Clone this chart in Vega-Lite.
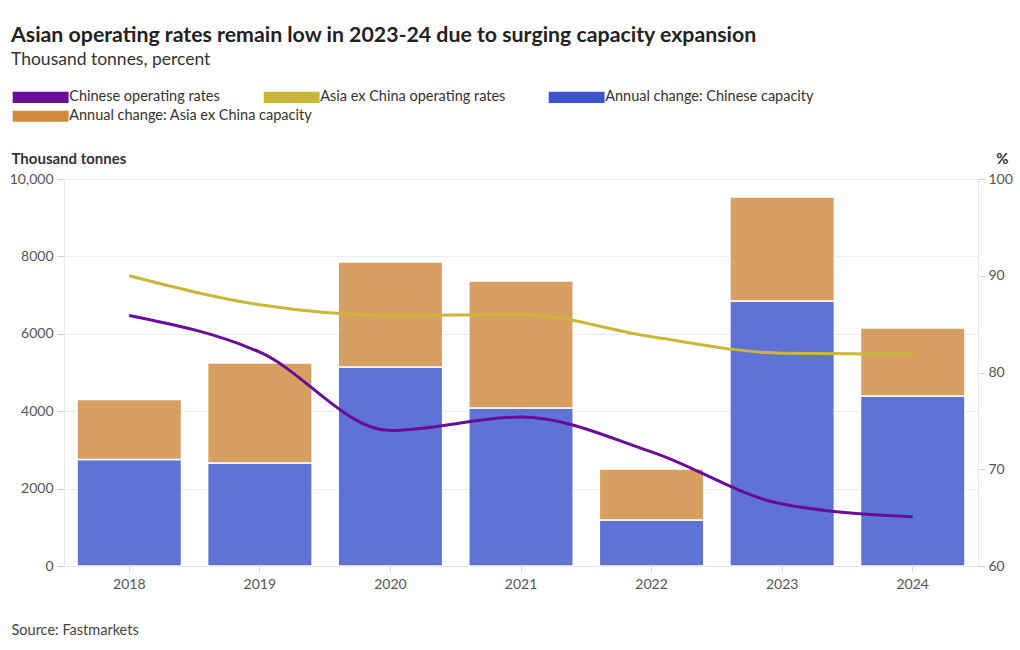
{
  "$schema": "https://vega.github.io/schema/vega-lite/v6.json",
  "autosize": "none",
  "width": 914,
  "height": 387,
  "padding": {"left": 64, "top": 179, "right": 42, "bottom": 84},
  "background": "white",
  "config": {
    "font": "Lato",
    "view": {"stroke": null},
    "title": {"anchor": "start", "frame": "group", "dx": -53, "fontSize": 21.3, "fontWeight": "bold", "color": "#222222", "subtitleFontSize": 17.5, "subtitleColor": "#333333", "subtitlePadding": 4, "offset": 22},
    "axis": {"labelFont": "Lato", "labelFontSize": 14, "labelColor": "#555555", "titleFont": "Lato"}
  },
  "title": {"text": "Asian operating rates remain low in 2023-24 due to surging capacity expansion", "subtitle": "Thousand tonnes, percent"},
  "data": {"values": [
    {"year": "2018", "series": "Annual change: Chinese capacity", "value": 2750},
    {"year": "2019", "series": "Annual change: Chinese capacity", "value": 2660},
    {"year": "2020", "series": "Annual change: Chinese capacity", "value": 5140},
    {"year": "2021", "series": "Annual change: Chinese capacity", "value": 4085},
    {"year": "2022", "series": "Annual change: Chinese capacity", "value": 1190},
    {"year": "2023", "series": "Annual change: Chinese capacity", "value": 6850},
    {"year": "2024", "series": "Annual change: Chinese capacity", "value": 4395},
    {"year": "2018", "series": "Annual change: Asia ex China capacity", "value": 1550},
    {"year": "2019", "series": "Annual change: Asia ex China capacity", "value": 2585},
    {"year": "2020", "series": "Annual change: Asia ex China capacity", "value": 2715},
    {"year": "2021", "series": "Annual change: Asia ex China capacity", "value": 3280},
    {"year": "2022", "series": "Annual change: Asia ex China capacity", "value": 1315},
    {"year": "2023", "series": "Annual change: Asia ex China capacity", "value": 2685},
    {"year": "2024", "series": "Annual change: Asia ex China capacity", "value": 1755},
    {"year": "2018", "series": "Chinese operating rates", "value": 85.9},
    {"year": "2019", "series": "Chinese operating rates", "value": 82.1},
    {"year": "2020", "series": "Chinese operating rates", "value": 74.0},
    {"year": "2021", "series": "Chinese operating rates", "value": 75.4},
    {"year": "2022", "series": "Chinese operating rates", "value": 71.8},
    {"year": "2023", "series": "Chinese operating rates", "value": 66.4},
    {"year": "2024", "series": "Chinese operating rates", "value": 65.1},
    {"year": "2018", "series": "Asia ex China operating rates", "value": 90.0},
    {"year": "2019", "series": "Asia ex China operating rates", "value": 87.0},
    {"year": "2020", "series": "Asia ex China operating rates", "value": 85.9},
    {"year": "2021", "series": "Asia ex China operating rates", "value": 86.0},
    {"year": "2022", "series": "Asia ex China operating rates", "value": 83.7},
    {"year": "2023", "series": "Asia ex China operating rates", "value": 82.0},
    {"year": "2024", "series": "Asia ex China operating rates", "value": 81.9}
  ]},
  "encoding": {
    "x": {"field": "year", "type": "ordinal", "scale": {"paddingInner": 0.2, "paddingOuter": 0.1},
      "axis": {"title": "Source: Fastmarkets", "labelAngle": 0, "labelPadding": 6, "tickSize": 5, "tickColor": "#d0d0d0", "domainColor": "#e6e6e6",
        "titleAnchor": "start", "titleAlign": "left", "titleBaseline": "alphabetic", "titleX": -53, "titleY": 68, "titleFontSize": 14.5, "titleFontWeight": "normal", "titleColor": "#444444"}},
    "color": {"field": "series", "type": "nominal",
      "scale": {"domain": ["Chinese operating rates", "Asia ex China operating rates", "Annual change: Chinese capacity", "Annual change: Asia ex China capacity"],
                "range": ["#6a0b97", "#cbb637", "#3c55cf", "#cf8a40"]},
      "legend": {"title": null, "orient": "none", "legendX": -30.6, "legendY": -89, "direction": "horizontal",
        "values": ["Chinese operating rates", "Asia ex China operating rates", "Annual change: Chinese capacity"],
        "columnPadding": 43,
        "symbolType": "M-5,-1H5V1H-5Z", "symbolSize": 125, "symbolOpacity": 1, "symbolStrokeWidth": 0, "labelOffset": 21.3, "labelFontSize": 14.5, "labelColor": "#333333", "labelFont": "Lato", "labelLimit": 400,
        "encode": {"symbols": {"update": {"fill": {"scale": "color", "field": "value"}, "stroke": {"value": "transparent"}, "opacity": {"value": 1}}}}}}
  },
  "layer": [
    {
      "transform": [{"filter": "indexof(datum.series, 'capacity') >= 0"}],
      "mark": {"type": "bar", "stroke": "white", "strokeWidth": 1.5},
      "encoding": {
        "y": {"field": "value", "type": "quantitative", "stack": "zero", "scale": {"domain": [0, 10000], "nice": false},
          "axis": {"title": "Thousand tonnes", "values": [0, 2000, 4000, 6000, 8000, 10000], "labelExpr": "datum.value >= 10000 ? format(datum.value, ',') : format(datum.value, 'd')",
            "labelFlush": false, "tickSize": 7, "tickColor": "#d0d0d0", "labelPadding": 4, "domainColor": "#e8e8e8", "gridColor": "#ececec",
            "titleAngle": 0, "titleAlign": "left", "titleBaseline": "alphabetic", "titleX": -53, "titleY": -16, "titleFontSize": 15, "titleFontWeight": "bold", "titleColor": "#333333"}},
        "opacity": {"field": "series", "type": "nominal", "scale": {"range": [0.82, 0.82]},
          "legend": {"title": null, "orient": "none", "legendX": -30.6, "legendY": -70, "direction": "horizontal",
            "values": ["Annual change: Asia ex China capacity"],
            "symbolType": "M-5,-1H5V1H-5Z", "symbolSize": 125, "symbolOpacity": 1, "symbolFillColor": "#c47016", "symbolStrokeColor": "transparent", "symbolStrokeWidth": 0, "labelOffset": 21.3, "labelFontSize": 14.5, "labelColor": "#333333", "labelFont": "Lato", "labelLimit": 400,
            "encode": {"symbols": {"update": {"fill": {"value": "#c47016"}, "stroke": {"value": "transparent"}, "opacity": {"value": 1}}}}}},
        "order": {"field": "series", "sort": "descending"}
      }
    },
    {
      "transform": [{"filter": "indexof(datum.series, 'operating') >= 0"}],
      "mark": {"type": "line", "strokeWidth": 3, "interpolate": "monotone"},
      "encoding": {
        "y": {"field": "value", "type": "quantitative", "scale": {"domain": [60, 100], "nice": false},
          "axis": {"orient": "right", "title": "%", "values": [60, 70, 80, 90, 100], "grid": false, "labelFlush": false, "tickSize": 7, "tickColor": "#d0d0d0", "labelPadding": 3, "domainColor": "#e8e8e8",
            "titleAngle": 0, "titleAlign": "right", "titleBaseline": "alphabetic", "titleX": 30, "titleY": -16, "titleFontSize": 15, "titleFontWeight": "bold", "titleColor": "#333333"}}
      }
    }
  ],
  "resolve": {"scale": {"y": "independent"}}
}
